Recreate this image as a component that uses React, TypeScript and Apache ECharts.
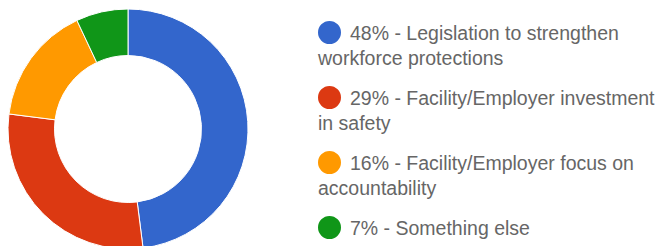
import React, { useEffect, useRef } from "react";
import * as echarts from "echarts";

const categories = [
  "Legislation to strengthen workforce protections",
  "Facility/Employer investment in safety",
  "Facility/Employer focus on accountability",
  "Something else",
];
const values = [48, 29, 16, 7];
const legendLines = [
  ["Legislation to strengthen", "workforce protections"],
  ["Facility/Employer investment", "in safety"],
  ["Facility/Employer focus on", "accountability"],
  ["Something else"],
];
const colors = ["#3366cc", "#dc3912", "#ff9900", "#109618"];

export default function App() {
  const ref = useRef<HTMLDivElement>(null);
  useEffect(() => {
    if (!ref.current) return;
    const chart = echarts.init(ref.current, undefined, { renderer: "svg" });
    const font = "'Liberation Sans', Arial, sans-serif";
    const textColor = "#666666";
    const rich: Record<string, any> = {
      s: { width: 9, height: 25, lineHeight: 25 },
      t: { fontSize: 19.5, lineHeight: 25, color: textColor, fontFamily: font },
    };
    colors.forEach((c, i) => {
      rich["d" + i] = {
        width: 23,
        height: 23,
        lineHeight: 25,
        borderRadius: 11.5,
        backgroundColor: c,
      };
    });
    chart.setOption({
      animation: false,
      color: colors,
      legend: {
        orient: "vertical",
        left: 312,
        top: 20,
        padding: 0,
        itemWidth: 0,
        itemHeight: 0,
        itemGap: 15,
        selectedMode: false,
        data: categories,
        textStyle: { fontSize: 19.5, lineHeight: 25, color: textColor, fontFamily: font, rich },
        formatter: (name: string) => {
          const i = categories.indexOf(name);
          const lines = legendLines[i];
          let s = `{d${i}| }{s| }{t|${values[i]}% - ${lines[0]}}`;
          for (let k = 1; k < lines.length; k++) s += `\n{t|${lines[k]}}`;
          return s;
        },
      },
      series: [
        {
          type: "pie",
          center: [128, 129],
          radius: [73.5, 120],
          startAngle: 90,
          clockwise: true,
          label: { show: false },
          labelLine: { show: false },
          emphasis: { disabled: true },
          itemStyle: { borderColor: "#ffffff", borderWidth: 1 },
          data: categories.map((name, i) => ({ name, value: values[i] })),
        },
      ],
    });
    return () => chart.dispose();
  }, []);
  return (
    <div
      ref={ref}
      style={{ position: "fixed", left: 0, top: 0, width: 657, height: 246, background: "#fff" }}
    />
  );
}
